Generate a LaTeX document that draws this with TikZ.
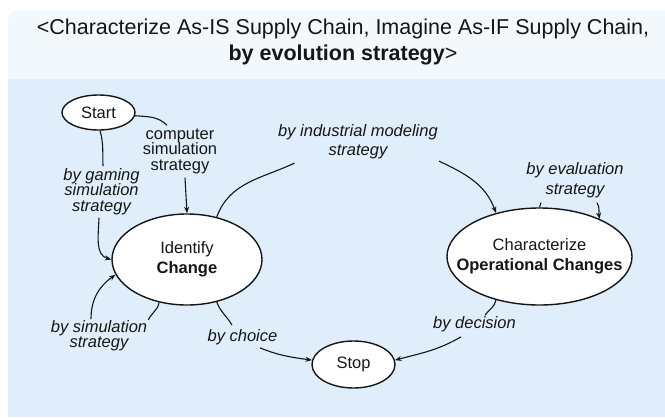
\documentclass[tikz,border=0pt]{standalone}
\usepackage{fontspec}
\setmainfont{Liberation Sans}
\usetikzlibrary{shapes.geometric, arrows.meta, positioning}
\definecolor{headBlue}{RGB}{243, 248, 253}
\definecolor{bodyBlue}{RGB}{223, 238, 250}
\definecolor{inkBlack}{RGB}{22, 22, 22}
\tikzset{
  stage/.style={
    ellipse,
    draw=inkBlack,
    line width=1.4pt,
    fill=white,
    inner sep=0pt,
    align=center,
    text=inkBlack,
    font=\fontsize{16.5}{20}\selectfont
  },
  strat/.style={
    inner sep=1pt,
    align=center,
    text=inkBlack,
    font=\fontsize{16.5}{15.5}\selectfont\itshape
  },
  stratwide/.style={
    strat,
    font=\fontsize{16.5}{19.5}\selectfont\itshape
  },
  stratplain/.style={
    strat,
    font=\fontsize{16.5}{15.5}\selectfont
  },
  link/.style={
    draw=inkBlack,
    line width=1.1pt
  },
  flow/.style={
    link,
    -{Stealth[length=6.5pt,width=5pt]}
  }
}
\begin{document}
\begin{tikzpicture}[x=1pt, y=1pt]
      \useasboundingbox (0,0) rectangle (665,-418);
      % Frame
      \fill[headBlue, rounded corners=10pt] (8,-10) rectangle (700,-100);
      \fill[bodyBlue] (8,-79) rectangle (700,-417);
      \node[inner sep=0pt, align=center, text=inkBlack, font=\fontsize{21.5}{26}\selectfont] (title) at (343,-42.4)
        {<Characterize As-IS Supply Chain, Imagine As-IF Supply Chain,\\\textbf{by evolution strategy}>};

      % States
      \node[stage, minimum width=73pt, minimum height=35pt] (start) at (98.5,-112.5) {Start};
      \node[stage, minimum width=150pt, minimum height=91pt] (identify) at (187,-259.5) {Identify\\\textbf{Change}};
      \node[stage, minimum width=185pt, minimum height=97pt, inner xsep=-20pt] (characterize) at (539.5,-256.5) {Characterize\\\textbf{Operational Changes}};
      \node[stage, minimum width=83pt, minimum height=47pt] (stop) at (353.5,-364.5) {Stop};

      % Strategies
      \node[stratplain] (lblcomputer) at (180,-151) {computer\\simulation\\strategy};
      \node[strat] (lblgaming) at (101.5,-191.5) {by gaming\\simulation\\strategy};
      \node[stratwide] (lblindustrial) at (358,-141.5) {by industrial modeling\\strategy};
      \node[stratwide] (lblevaluation) at (575,-180) {by evaluation\\strategy};
      \node[strat] (lblsimulation) at (99,-335.5) {by simulation\\strategy};
      \node[strat] (lblchoice) at (242.5,-337) {by choice};
      \node[strat] (lbldecision) at (474.5,-324) {by decision};

      % Start -> Identify Change
      \draw[link] (start.-5) to[out=-5, in=135] ([xshift=-13pt,yshift=2pt]lblcomputer.north);
      \draw[flow] ([xshift=5pt,yshift=-3pt]lblcomputer.south) -- (identify.north);
      \draw[link] (start.-85) to[out=-75, in=92] ([xshift=1.5pt,yshift=1pt]lblgaming.north);
      \draw[flow] ([xshift=-2.5pt,yshift=-2pt]lblgaming.south) to[out=-92, in=165] (identify.west);

      % Identify Change -> Characterize
      \draw[link] (identify.55) to[out=70, in=205] ([xshift=17.5pt,yshift=-3pt]lblindustrial.south west);
      \draw[flow] ([yshift=-1pt]lblindustrial.south east) to[out=-25, in=110] (characterize.135);

      % Loops
      \draw[link] (characterize.north) -- ([xshift=-34pt,yshift=-4pt]lblevaluation.south);
      \draw[flow] ([xshift=22pt,yshift=-4pt]lblevaluation.south) to[out=-60, in=100] (characterize.32);
      \draw[link] (identify.237) to[out=-100, in=65] ([yshift=-1pt]lblsimulation.north east);
      \draw[flow] ([xshift=-8pt]lblsimulation.north) to[out=90, in=215] (identify.192);

      % To Stop
      \draw[link] (identify.305) to[out=-70, in=120] ([xshift=-10.5pt,yshift=3pt]lblchoice.north);
      \draw[flow] ([xshift=17.5pt,yshift=-2pt]lblchoice.south) to[out=-22, in=172] (stop.174);
      \draw[link] (characterize.225) to[out=-100, in=55] ([xshift=10.5pt]lbldecision.north);
      \draw[flow] ([xshift=-13.5pt,yshift=-4pt]lbldecision.south) to[out=210, in=15] (stop.6);
    \end{tikzpicture}
\end{document}
